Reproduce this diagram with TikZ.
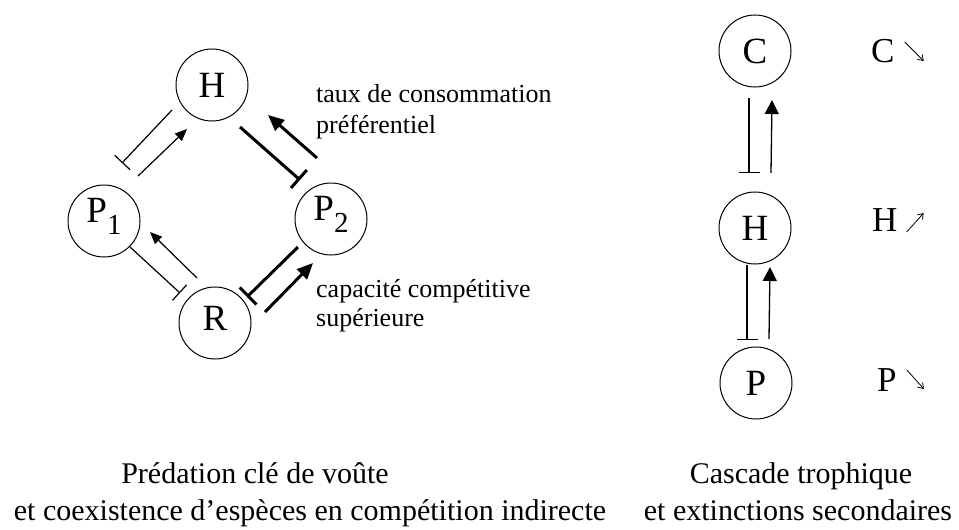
\documentclass[tikz,border=0pt]{standalone}
\usepackage{fontspec}
\setmainfont{Liberation Serif}
\usetikzlibrary{arrows.meta}
\newcommand\psub[1]{\raisebox{-12pt}[0pt][21pt]{\fontsize{29}{29}\selectfont #1}}
\begin{document}
\begin{tikzpicture}[x=1pt,y=-1pt,
  sp/.style={circle,draw,line width=1pt,minimum size=72pt,inner sep=0pt,font=\fontsize{37}{37}\selectfont},
  inhthin/.style={line width=1.2pt,-{Bar[width=21pt]}},
  actthin/.style={line width=1.2pt,-{Triangle[length=12pt,width=10pt]}},
  inhthick/.style={line width=3pt,-{Bar[width=24pt]}},
  actthick/.style={line width=3pt,-{Triangle[length=16pt,width=14pt]}},
  inhright/.style={line width=1.3pt,-{Bar[width=21pt]}},
  actright/.style={line width=1.3pt,-{Triangle[length=14pt,width=14pt]}},
  trend/.style={line width=0.8pt,-{Straight Barb[length=5pt,width=7pt]}},
  rlab/.style={inner sep=0pt,font=\fontsize{35}{35}\selectfont},
  lab/.style={inner sep=0pt,font=\fontsize{26}{26}\selectfont},
  captext/.style={inner sep=0pt,font=\fontsize{30}{30}\selectfont}
]
\useasboundingbox (0,0) rectangle (959,530);
% nodes
\node[sp] (H) at (212,85) {H};
\node[sp] (P1) at (104,221) {P\psub{1}};
\node[sp] (P2) at (331,219) {P\psub{2}};
\node[sp] (R) at (215,323) {\raisebox{0pt}[\height][10pt]{R}};
\node[sp] (C) at (755,51) {C};
\node[sp] (Hb) at (755,228) {H};
\node[sp] (Pb) at (756,383) {P};
% left connectors
\draw[inhthin] ([shift={(-40,25)}]H.center) -- ([shift={(18,-58)}]P1.center);
\draw[actthin] ([shift={(34,-45)}]P1.center) -- ([shift={(-25,44)}]H.center);
\draw[inhthick] ([shift={(28,42)}]H.center) -- ([shift={(-31,-39)}]P2.center);
\draw[actthick] ([shift={(-14,-61)}]P2.center) -- ([shift={(56,30)}]H.center);
\draw[inhthin] ([shift={(26,26)}]P1.center) -- ([shift={(-35,-30)}]R.center);
\draw[actthin] ([shift={(-18,-45)}]R.center) -- ([shift={(46,11)}]P1.center);
\draw[inhthick] ([shift={(-33,28)}]P2.center) -- ([shift={(32,-26)}]R.center);
\draw[actthick] ([shift={(50,-11)}]R.center) -- ([shift={(-18,44)}]P2.center);
% right connectors
\draw[inhright] ([shift={(-6,47)}]C.center) -- ([shift={(-6,-55)}]Hb.center);
\draw[actright] ([shift={(16,-55)}]Hb.center) -- ([shift={(17,49)}]C.center);
\draw[inhright] ([shift={(-8,37)}]Hb.center) -- ([shift={(-9,-43)}]Pb.center);
\draw[actright] ([shift={(13,-44)}]Pb.center) -- ([shift={(15,39)}]Hb.center);
% right labels
\node[rlab,anchor=base west] (lC) at (871,62) {C};
\node[rlab,anchor=base west] (lH) at (872,231) {H};
\node[rlab,anchor=base west] (lP) at (877,391) {P};
\draw[trend] ([shift={(10,-20)}]lC.base east) -- ++(19,19);
\draw[trend] ([shift={(9,1)}]lH.base east) -- ++(17,-19);
\draw[trend] ([shift={(10,-21)}]lP.base east) -- ++(17,19);
% annotations
\node[lab,anchor=base west] (t1) at (316,102) {taux de consommation};
\node[lab,anchor=base west] (t2) at (316,133) {préférentiel};
\node[lab,anchor=base west] (t3) at (316,297) {capacité compétitive};
\node[lab,anchor=base west] (t4) at (316,326) {supérieure};
% captions
\node[captext,anchor=base] (c1) at (255,483) {Prédation clé de voûte};
\node[captext,anchor=base] (c2) at (310,520) {et coexistence d’espèces en compétition indirecte};
\node[captext,anchor=base] (c3) at (801,483) {Cascade trophique};
\node[captext,anchor=base] (c4) at (798,520) {et extinctions secondaires};
\end{tikzpicture}
\end{document}
